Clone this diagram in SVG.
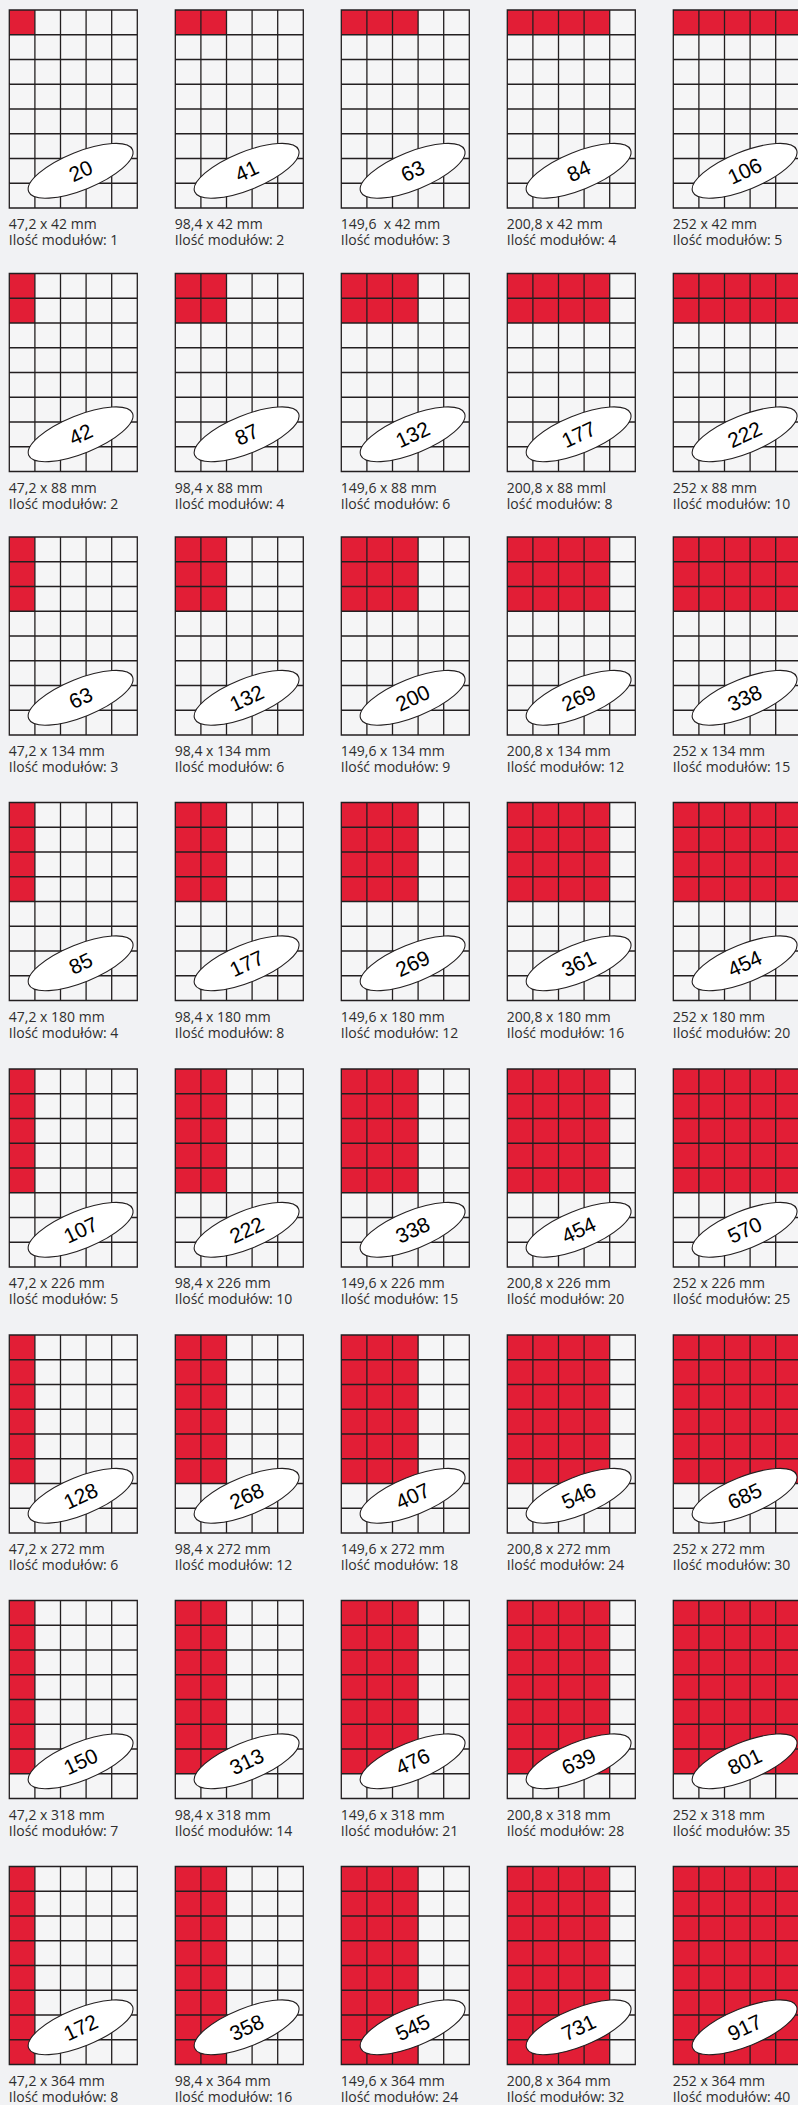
<svg xmlns="http://www.w3.org/2000/svg" xmlns:xlink="http://www.w3.org/1999/xlink" width="798" height="2105" viewBox="0 0 798 2105">
<style>
.bg{fill:#f5f5f6}
.red{fill:#e21e36}
.gl{fill:none;stroke:#231f20;stroke-width:1.3}
.ov{fill:#fff;stroke:#231f20;stroke-width:1.1}
.num{font-family:"Liberation Sans",Arial,sans-serif;font-size:21px;text-anchor:middle;fill:#000}
.lbl{font-family:"Open Sans","Liberation Sans",sans-serif;font-size:14px;fill:#2e2e2e;white-space:pre}
</style>
<defs>
<path id="grid" class="gl" d="M0,0H128V198H0Z M25.6,0V198 M51.2,0V198 M76.8,0V198 M102.4,0V198 M0,24.75H128 M0,49.5H128 M0,74.25H128 M0,99H128 M0,123.75H128 M0,148.5H128 M0,173.25H128"/>
<ellipse id="oval" class="ov" rx="56" ry="19" transform="rotate(-22)"/>
</defs>
<rect width="798" height="2105" fill="#f1f2f4"/>

<g id="n-1-1" transform="translate(9.3,10)"><rect class="bg" width="128" height="198"/><rect class="red" width="25.6" height="24.75"/><use href="#grid"/><g transform="translate(71.3,160.8)"><use href="#oval"/><text class="num" y="7.5" transform="rotate(-25)">20</text></g><text class="lbl" x="-0.5" y="219">47,2 x 42 mm</text><text class="lbl" x="-0.5" y="235">Ilość modułów: 1</text></g>
<g id="n-1-2" transform="translate(175.3,10)"><rect class="bg" width="128" height="198"/><rect class="red" width="51.2" height="24.75"/><use href="#grid"/><g transform="translate(71.3,160.8)"><use href="#oval"/><text class="num" y="7.5" transform="rotate(-25)">41</text></g><text class="lbl" x="-0.5" y="219">98,4 x 42 mm</text><text class="lbl" x="-0.5" y="235">Ilość modułów: 2</text></g>
<g id="n-1-3" transform="translate(341.3,10)"><rect class="bg" width="128" height="198"/><rect class="red" width="76.8" height="24.75"/><use href="#grid"/><g transform="translate(71.3,160.8)"><use href="#oval"/><text class="num" y="7.5" transform="rotate(-25)">63</text></g><text class="lbl" x="-0.5" y="219" xml:space="preserve">149,6  x 42 mm</text><text class="lbl" x="-0.5" y="235">Ilość modułów: 3</text></g>
<g id="n-1-4" transform="translate(507.3,10)"><rect class="bg" width="128" height="198"/><rect class="red" width="102.4" height="24.75"/><use href="#grid"/><g transform="translate(71.3,160.8)"><use href="#oval"/><text class="num" y="7.5" transform="rotate(-25)">84</text></g><text class="lbl" x="-0.5" y="219">200,8 x 42 mm</text><text class="lbl" x="-0.5" y="235">Ilość modułów: 4</text></g>
<g id="n-1-5" transform="translate(673.3,10)"><rect class="bg" width="128" height="198"/><rect class="red" width="128" height="24.75"/><use href="#grid"/><g transform="translate(71.3,160.8)"><use href="#oval"/><text class="num" y="7.5" transform="rotate(-25)">106</text></g><text class="lbl" x="-0.5" y="219">252 x 42 mm</text><text class="lbl" x="-0.5" y="235">Ilość modułów: 5</text></g>

<g id="n-2-1" transform="translate(9.3,273.5)"><rect class="bg" width="128" height="198"/><rect class="red" width="25.6" height="49.5"/><use href="#grid"/><g transform="translate(71.3,160.8)"><use href="#oval"/><text class="num" y="7.5" transform="rotate(-25)">42</text></g><text class="lbl" x="-0.5" y="219">47,2 x 88 mm</text><text class="lbl" x="-0.5" y="235">Ilość modułów: 2</text></g>
<g id="n-2-2" transform="translate(175.3,273.5)"><rect class="bg" width="128" height="198"/><rect class="red" width="51.2" height="49.5"/><use href="#grid"/><g transform="translate(71.3,160.8)"><use href="#oval"/><text class="num" y="7.5" transform="rotate(-25)">87</text></g><text class="lbl" x="-0.5" y="219">98,4 x 88 mm</text><text class="lbl" x="-0.5" y="235">Ilość modułów: 4</text></g>
<g id="n-2-3" transform="translate(341.3,273.5)"><rect class="bg" width="128" height="198"/><rect class="red" width="76.8" height="49.5"/><use href="#grid"/><g transform="translate(71.3,160.8)"><use href="#oval"/><text class="num" y="7.5" transform="rotate(-25)">132</text></g><text class="lbl" x="-0.5" y="219">149,6 x 88 mm</text><text class="lbl" x="-0.5" y="235">Ilość modułów: 6</text></g>
<g id="n-2-4" transform="translate(507.3,273.5)"><rect class="bg" width="128" height="198"/><rect class="red" width="102.4" height="49.5"/><use href="#grid"/><g transform="translate(71.3,160.8)"><use href="#oval"/><text class="num" y="7.5" transform="rotate(-25)">177</text></g><text class="lbl" x="-0.5" y="219">200,8 x 88 mml</text><text class="lbl" x="-0.5" y="235">lość modułów: 8</text></g>
<g id="n-2-5" transform="translate(673.3,273.5)"><rect class="bg" width="128" height="198"/><rect class="red" width="128" height="49.5"/><use href="#grid"/><g transform="translate(71.3,160.8)"><use href="#oval"/><text class="num" y="7.5" transform="rotate(-25)">222</text></g><text class="lbl" x="-0.5" y="219">252 x 88 mm</text><text class="lbl" x="-0.5" y="235">Ilość modułów: 10</text></g>

<g id="n-3-1" transform="translate(9.3,537)"><rect class="bg" width="128" height="198"/><rect class="red" width="25.6" height="74.25"/><use href="#grid"/><g transform="translate(71.3,160.8)"><use href="#oval"/><text class="num" y="7.5" transform="rotate(-25)">63</text></g><text class="lbl" x="-0.5" y="219">47,2 x 134 mm</text><text class="lbl" x="-0.5" y="235">Ilość modułów: 3</text></g>
<g id="n-3-2" transform="translate(175.3,537)"><rect class="bg" width="128" height="198"/><rect class="red" width="51.2" height="74.25"/><use href="#grid"/><g transform="translate(71.3,160.8)"><use href="#oval"/><text class="num" y="7.5" transform="rotate(-25)">132</text></g><text class="lbl" x="-0.5" y="219">98,4 x 134 mm</text><text class="lbl" x="-0.5" y="235">Ilość modułów: 6</text></g>
<g id="n-3-3" transform="translate(341.3,537)"><rect class="bg" width="128" height="198"/><rect class="red" width="76.8" height="74.25"/><use href="#grid"/><g transform="translate(71.3,160.8)"><use href="#oval"/><text class="num" y="7.5" transform="rotate(-25)">200</text></g><text class="lbl" x="-0.5" y="219">149,6 x 134 mm</text><text class="lbl" x="-0.5" y="235">Ilość modułów: 9</text></g>
<g id="n-3-4" transform="translate(507.3,537)"><rect class="bg" width="128" height="198"/><rect class="red" width="102.4" height="74.25"/><use href="#grid"/><g transform="translate(71.3,160.8)"><use href="#oval"/><text class="num" y="7.5" transform="rotate(-25)">269</text></g><text class="lbl" x="-0.5" y="219">200,8 x 134 mm</text><text class="lbl" x="-0.5" y="235">Ilość modułów: 12</text></g>
<g id="n-3-5" transform="translate(673.3,537)"><rect class="bg" width="128" height="198"/><rect class="red" width="128" height="74.25"/><use href="#grid"/><g transform="translate(71.3,160.8)"><use href="#oval"/><text class="num" y="7.5" transform="rotate(-25)">338</text></g><text class="lbl" x="-0.5" y="219">252 x 134 mm</text><text class="lbl" x="-0.5" y="235">Ilość modułów: 15</text></g>

<g id="n-4-1" transform="translate(9.3,802.5)"><rect class="bg" width="128" height="198"/><rect class="red" width="25.6" height="99"/><use href="#grid"/><g transform="translate(71.3,160.8)"><use href="#oval"/><text class="num" y="7.5" transform="rotate(-25)">85</text></g><text class="lbl" x="-0.5" y="219">47,2 x 180 mm</text><text class="lbl" x="-0.5" y="235">Ilość modułów: 4</text></g>
<g id="n-4-2" transform="translate(175.3,802.5)"><rect class="bg" width="128" height="198"/><rect class="red" width="51.2" height="99"/><use href="#grid"/><g transform="translate(71.3,160.8)"><use href="#oval"/><text class="num" y="7.5" transform="rotate(-25)">177</text></g><text class="lbl" x="-0.5" y="219">98,4 x 180 mm</text><text class="lbl" x="-0.5" y="235">Ilość modułów: 8</text></g>
<g id="n-4-3" transform="translate(341.3,802.5)"><rect class="bg" width="128" height="198"/><rect class="red" width="76.8" height="99"/><use href="#grid"/><g transform="translate(71.3,160.8)"><use href="#oval"/><text class="num" y="7.5" transform="rotate(-25)">269</text></g><text class="lbl" x="-0.5" y="219">149,6 x 180 mm</text><text class="lbl" x="-0.5" y="235">Ilość modułów: 12</text></g>
<g id="n-4-4" transform="translate(507.3,802.5)"><rect class="bg" width="128" height="198"/><rect class="red" width="102.4" height="99"/><use href="#grid"/><g transform="translate(71.3,160.8)"><use href="#oval"/><text class="num" y="7.5" transform="rotate(-25)">361</text></g><text class="lbl" x="-0.5" y="219">200,8 x 180 mm</text><text class="lbl" x="-0.5" y="235">Ilość modułów: 16</text></g>
<g id="n-4-5" transform="translate(673.3,802.5)"><rect class="bg" width="128" height="198"/><rect class="red" width="128" height="99"/><use href="#grid"/><g transform="translate(71.3,160.8)"><use href="#oval"/><text class="num" y="7.5" transform="rotate(-25)">454</text></g><text class="lbl" x="-0.5" y="219">252 x 180 mm</text><text class="lbl" x="-0.5" y="235">Ilość modułów: 20</text></g>

<g id="n-5-1" transform="translate(9.3,1069)"><rect class="bg" width="128" height="198"/><rect class="red" width="25.6" height="123.75"/><use href="#grid"/><g transform="translate(71.3,160.8)"><use href="#oval"/><text class="num" y="7.5" transform="rotate(-25)">107</text></g><text class="lbl" x="-0.5" y="219">47,2 x 226 mm</text><text class="lbl" x="-0.5" y="235">Ilość modułów: 5</text></g>
<g id="n-5-2" transform="translate(175.3,1069)"><rect class="bg" width="128" height="198"/><rect class="red" width="51.2" height="123.75"/><use href="#grid"/><g transform="translate(71.3,160.8)"><use href="#oval"/><text class="num" y="7.5" transform="rotate(-25)">222</text></g><text class="lbl" x="-0.5" y="219">98,4 x 226 mm</text><text class="lbl" x="-0.5" y="235">Ilość modułów: 10</text></g>
<g id="n-5-3" transform="translate(341.3,1069)"><rect class="bg" width="128" height="198"/><rect class="red" width="76.8" height="123.75"/><use href="#grid"/><g transform="translate(71.3,160.8)"><use href="#oval"/><text class="num" y="7.5" transform="rotate(-25)">338</text></g><text class="lbl" x="-0.5" y="219">149,6 x 226 mm</text><text class="lbl" x="-0.5" y="235">Ilość modułów: 15</text></g>
<g id="n-5-4" transform="translate(507.3,1069)"><rect class="bg" width="128" height="198"/><rect class="red" width="102.4" height="123.75"/><use href="#grid"/><g transform="translate(71.3,160.8)"><use href="#oval"/><text class="num" y="7.5" transform="rotate(-25)">454</text></g><text class="lbl" x="-0.5" y="219">200,8 x 226 mm</text><text class="lbl" x="-0.5" y="235">Ilość modułów: 20</text></g>
<g id="n-5-5" transform="translate(673.3,1069)"><rect class="bg" width="128" height="198"/><rect class="red" width="128" height="123.75"/><use href="#grid"/><g transform="translate(71.3,160.8)"><use href="#oval"/><text class="num" y="7.5" transform="rotate(-25)">570</text></g><text class="lbl" x="-0.5" y="219">252 x 226 mm</text><text class="lbl" x="-0.5" y="235">Ilość modułów: 25</text></g>

<g id="n-6-1" transform="translate(9.3,1335)"><rect class="bg" width="128" height="198"/><rect class="red" width="25.6" height="148.5"/><use href="#grid"/><g transform="translate(71.3,160.8)"><use href="#oval"/><text class="num" y="7.5" transform="rotate(-25)">128</text></g><text class="lbl" x="-0.5" y="219">47,2 x 272 mm</text><text class="lbl" x="-0.5" y="235">Ilość modułów: 6</text></g>
<g id="n-6-2" transform="translate(175.3,1335)"><rect class="bg" width="128" height="198"/><rect class="red" width="51.2" height="148.5"/><use href="#grid"/><g transform="translate(71.3,160.8)"><use href="#oval"/><text class="num" y="7.5" transform="rotate(-25)">268</text></g><text class="lbl" x="-0.5" y="219">98,4 x 272 mm</text><text class="lbl" x="-0.5" y="235">Ilość modułów: 12</text></g>
<g id="n-6-3" transform="translate(341.3,1335)"><rect class="bg" width="128" height="198"/><rect class="red" width="76.8" height="148.5"/><use href="#grid"/><g transform="translate(71.3,160.8)"><use href="#oval"/><text class="num" y="7.5" transform="rotate(-25)">407</text></g><text class="lbl" x="-0.5" y="219">149,6 x 272 mm</text><text class="lbl" x="-0.5" y="235">Ilość modułów: 18</text></g>
<g id="n-6-4" transform="translate(507.3,1335)"><rect class="bg" width="128" height="198"/><rect class="red" width="102.4" height="148.5"/><use href="#grid"/><g transform="translate(71.3,160.8)"><use href="#oval"/><text class="num" y="7.5" transform="rotate(-25)">546</text></g><text class="lbl" x="-0.5" y="219">200,8 x 272 mm</text><text class="lbl" x="-0.5" y="235">Ilość modułów: 24</text></g>
<g id="n-6-5" transform="translate(673.3,1335)"><rect class="bg" width="128" height="198"/><rect class="red" width="128" height="148.5"/><use href="#grid"/><g transform="translate(71.3,160.8)"><use href="#oval"/><text class="num" y="7.5" transform="rotate(-25)">685</text></g><text class="lbl" x="-0.5" y="219">252 x 272 mm</text><text class="lbl" x="-0.5" y="235">Ilość modułów: 30</text></g>

<g id="n-7-1" transform="translate(9.3,1600.5)"><rect class="bg" width="128" height="198"/><rect class="red" width="25.6" height="173.25"/><use href="#grid"/><g transform="translate(71.3,160.8)"><use href="#oval"/><text class="num" y="7.5" transform="rotate(-25)">150</text></g><text class="lbl" x="-0.5" y="219">47,2 x 318 mm</text><text class="lbl" x="-0.5" y="235">Ilość modułów: 7</text></g>
<g id="n-7-2" transform="translate(175.3,1600.5)"><rect class="bg" width="128" height="198"/><rect class="red" width="51.2" height="173.25"/><use href="#grid"/><g transform="translate(71.3,160.8)"><use href="#oval"/><text class="num" y="7.5" transform="rotate(-25)">313</text></g><text class="lbl" x="-0.5" y="219">98,4 x 318 mm</text><text class="lbl" x="-0.5" y="235">Ilość modułów: 14</text></g>
<g id="n-7-3" transform="translate(341.3,1600.5)"><rect class="bg" width="128" height="198"/><rect class="red" width="76.8" height="173.25"/><use href="#grid"/><g transform="translate(71.3,160.8)"><use href="#oval"/><text class="num" y="7.5" transform="rotate(-25)">476</text></g><text class="lbl" x="-0.5" y="219">149,6 x 318 mm</text><text class="lbl" x="-0.5" y="235">Ilość modułów: 21</text></g>
<g id="n-7-4" transform="translate(507.3,1600.5)"><rect class="bg" width="128" height="198"/><rect class="red" width="102.4" height="173.25"/><use href="#grid"/><g transform="translate(71.3,160.8)"><use href="#oval"/><text class="num" y="7.5" transform="rotate(-25)">639</text></g><text class="lbl" x="-0.5" y="219">200,8 x 318 mm</text><text class="lbl" x="-0.5" y="235">Ilość modułów: 28</text></g>
<g id="n-7-5" transform="translate(673.3,1600.5)"><rect class="bg" width="128" height="198"/><rect class="red" width="128" height="173.25"/><use href="#grid"/><g transform="translate(71.3,160.8)"><use href="#oval"/><text class="num" y="7.5" transform="rotate(-25)">801</text></g><text class="lbl" x="-0.5" y="219">252 x 318 mm</text><text class="lbl" x="-0.5" y="235">Ilość modułów: 35</text></g>

<g id="n-8-1" transform="translate(9.3,1866.5)"><rect class="bg" width="128" height="198"/><rect class="red" width="25.6" height="198"/><use href="#grid"/><g transform="translate(71.3,160.8)"><use href="#oval"/><text class="num" y="7.5" transform="rotate(-25)">172</text></g><text class="lbl" x="-0.5" y="219">47,2 x 364 mm</text><text class="lbl" x="-0.5" y="235">Ilość modułów: 8</text></g>
<g id="n-8-2" transform="translate(175.3,1866.5)"><rect class="bg" width="128" height="198"/><rect class="red" width="51.2" height="198"/><use href="#grid"/><g transform="translate(71.3,160.8)"><use href="#oval"/><text class="num" y="7.5" transform="rotate(-25)">358</text></g><text class="lbl" x="-0.5" y="219">98,4 x 364 mm</text><text class="lbl" x="-0.5" y="235">Ilość modułów: 16</text></g>
<g id="n-8-3" transform="translate(341.3,1866.5)"><rect class="bg" width="128" height="198"/><rect class="red" width="76.8" height="198"/><use href="#grid"/><g transform="translate(71.3,160.8)"><use href="#oval"/><text class="num" y="7.5" transform="rotate(-25)">545</text></g><text class="lbl" x="-0.5" y="219">149,6 x 364 mm</text><text class="lbl" x="-0.5" y="235">Ilość modułów: 24</text></g>
<g id="n-8-4" transform="translate(507.3,1866.5)"><rect class="bg" width="128" height="198"/><rect class="red" width="102.4" height="198"/><use href="#grid"/><g transform="translate(71.3,160.8)"><use href="#oval"/><text class="num" y="7.5" transform="rotate(-25)">731</text></g><text class="lbl" x="-0.5" y="219">200,8 x 364 mm</text><text class="lbl" x="-0.5" y="235">Ilość modułów: 32</text></g>
<g id="n-8-5" transform="translate(673.3,1866.5)"><rect class="bg" width="128" height="198"/><rect class="red" width="128" height="198"/><use href="#grid"/><g transform="translate(71.3,160.8)"><use href="#oval"/><text class="num" y="7.5" transform="rotate(-25)">917</text></g><text class="lbl" x="-0.5" y="219">252 x 364 mm</text><text class="lbl" x="-0.5" y="235">Ilość modułów: 40</text></g>
</svg>
